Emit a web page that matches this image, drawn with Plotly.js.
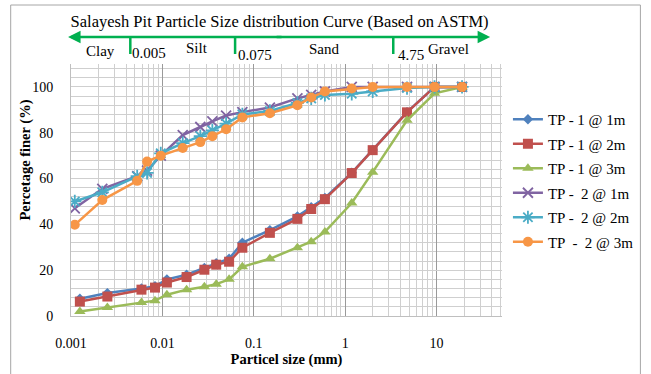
<!DOCTYPE html>
<html>
<head>
<meta charset="utf-8">
<script src="https://cdn.plot.ly/plotly-3.0.1.min.js"></script>
<style>
html,body{margin:0;padding:0;background:#fff;}
#chart{width:651px;height:374px;}
</style>
</head>
<body>
<div id="chart"></div>
<script>
// ---- data ----
var sizeTP1 = [0.00125, 0.0025, 0.0059, 0.0083, 0.0112, 0.0184, 0.0288, 0.0388, 0.0537, 0.075, 0.15, 0.3, 0.425, 0.6, 1.18, 2.0, 4.75, 9.5, 19];
var sizeTP2 = [0.0011, 0.0022, 0.0053, 0.0068, 0.0096, 0.0167, 0.026, 0.0352, 0.0498, 0.075, 0.15, 0.3, 0.425, 0.6, 1.18, 2.0, 4.75, 9.5, 19];

var tp1_1m = [7.5, 10, 12, 13, 16, 18, 21, 23, 25, 32, 37.5, 43.5, 47.5, 51.5, 62.5, 72.5, 89, 100, 100];
var tp1_2m = [6.3, 8.5, 11.5, 12.4, 14.6, 17, 20.2, 22.4, 23.7, 29.8, 36.3, 42.4, 46.7, 51, 62.4, 72.4, 88.9, 100, 100];
var tp1_3m = [2, 3.7, 5.9, 6.7, 9.3, 11.5, 12.8, 13.9, 16, 21.5, 25, 29.8, 32.4, 36.7, 49.3, 62.8, 85.4, 97.2, 100];
var tp2_1m = [47, 55.5, 61, 63.5, 70, 79, 82.5, 85, 87.5, 89, 91, 95, 96.5, 98, 100, 100, 100, 100, 100];
var tp2_2m = [50, 54, 61, 62.5, 71, 75.5, 78.5, 81, 84, 88, 89.5, 93, 95, 96.5, 97, 98, 99.5, 100, 100];
var tp2_3m = [39.8, 50.6, 59, 67.4, 70, 73.3, 75.9, 78.5, 81.5, 86.7, 88.5, 92, 95.4, 98, 99.3, 100, 100, 100, 100];

var seriesNames = ['TP - 1 @ 1m', 'TP - 1 @ 2m', 'TP - 1 @ 3m', 'TP -  2 @ 1m', 'TP -  2 @ 2m', 'TP  -  2 @ 3m'];
var xTickVals = [0.001, 0.01, 0.1, 1, 10];
var xTickText = ['0.001', '0.01', '0.1', '1', '10'];
var yTickVals = [0, 20, 40, 60, 80, 100];

var boundaryLabels = ['Clay', '0.005', 'Silt', '0.075', 'Sand', '4.75', 'Gravel'];

// ---- styles ----
var colors = ['#4F81BD', '#C0504D', '#9BBB59', '#8064A2', '#4BACC6', '#F79646'];
var symbols = ['diamond', 'square', 'triangle-up', 'x-thin-open', 'asterisk-open', 'circle'];
var sizes = [8, 10, 10, 10, 11, 10];
var xs = [sizeTP1, sizeTP1, sizeTP1, sizeTP2, sizeTP2, sizeTP2];
var ys = [tp1_1m, tp1_2m, tp1_3m, tp2_1m, tp2_2m, tp2_3m];

var traces = [];
for (var i = 0; i < 6; i++) {
  var open = symbols[i].indexOf('open') >= 0;
  traces.push({
    x: xs[i], y: ys[i], name: seriesNames[i], type: 'scatter', mode: 'lines+markers',
    legendgroup: 'g' + i,
    line: {color: colors[i], width: 2.5},
    marker: {symbol: symbols[i], size: sizes[i], color: colors[i],
             line: {color: colors[i], width: open ? 1.8 : 0}}
  });
}

var serif = "'Liberation Serif', 'Times New Roman', serif";
var L = 71, R = 507, T = 64, B = 316;
function px(x) { return (x - L) / (R - L); }
function py(y) { return (B - y) / (B - T); }

var green = '#00B050';
var annX = [101, 150, 198, 257, 327, 415, 453];
var annY = [51, 53, 48, 55, 49, 55, 49];
var annotations = [];
for (var k = 0; k < boundaryLabels.length; k++) {
  annotations.push({text: boundaryLabels[k], xref: 'paper', yref: 'paper', x: px(annX[k]), y: py(annY[k]),
    xanchor: 'center', yanchor: 'middle', showarrow: false, font: {family: serif, size: 15, color: '#000'}});
}
// double arrow
annotations.push({text: '', xref: 'paper', yref: 'paper', x: px(68), y: py(37), ax: 215, ay: 0,
  showarrow: true, arrowhead: 2, arrowsize: 1, arrowwidth: 2.5, arrowcolor: green});
annotations.push({text: '', xref: 'paper', yref: 'paper', x: px(495), y: py(37), ax: -215, ay: 0,
  showarrow: true, arrowhead: 2, arrowsize: 1, arrowwidth: 2.5, arrowcolor: green});
// y title
annotations.push({text: '<b>Percetage finer (%)</b>', xref: 'paper', yref: 'paper', x: px(24), y: py(160),
  xanchor: 'center', yanchor: 'middle', textangle: -90, showarrow: false,
  font: {family: serif, size: 14.5, color: '#000'}});

var shapes = [
  {type: 'rect', xref: 'paper', yref: 'paper', x0: px(10), x1: px(647), y0: py(390), y1: py(5),
   line: {color: '#A6A6A6', width: 1}, fillcolor: 'rgba(0,0,0,0)', layer: 'below'}
];
[131, 237, 397].forEach(function (xx) {
  shapes.push({type: 'line', xref: 'paper', yref: 'paper', x0: px(xx), x1: px(xx), y0: py(37), y1: py(54),
    line: {color: green, width: 2.5}});
});

var layout = {
  width: 651, height: 374,
  margin: {l: L, r: 651 - R, t: T, b: 374 - B},
  paper_bgcolor: '#fff', plot_bgcolor: '#fff',
  font: {family: serif, size: 14, color: '#000'},
  title: {text: 'Salayesh Pit Particle Size distribution Curve (Based on ASTM)',
          x: px(282), xanchor: 'center', xref: 'paper', y: 1 - 21 / 374, yanchor: 'middle',
          font: {family: serif, size: 16.5, color: '#000'}},
  xaxis: {type: 'log', range: [-3, Math.log10(52)], tickmode: 'array', tickvals: xTickVals, ticktext: xTickText,
          showgrid: true, gridcolor: '#9A9A9A', gridwidth: 1,
          minor: {dtick: 'D1', showgrid: true, gridcolor: '#CFCFCF', gridwidth: 1, ticks: ''},
          showline: true, linecolor: '#BFBFBF', zeroline: false, ticks: '', ticklabelstandoff: 14,
          tickfont: {family: serif, size: 14, color: '#000'},
          title: {text: '<b>Particel size (mm)</b>', standoff: 3, font: {family: serif, size: 14.5, color: '#000'}}},
  yaxis: {range: [0, 110], tickmode: 'array', tickvals: yTickVals,
          showgrid: true, gridcolor: '#CFCFCF', gridwidth: 1,
          minor: {dtick: 4, tick0: 0, showgrid: true, gridcolor: '#CFCFCF', gridwidth: 1, ticks: ''},
          showline: true, linecolor: '#BFBFBF', zeroline: false, ticks: '', ticklabelstandoff: 14,
          tickfont: {family: serif, size: 14, color: '#000'}},
  legend: {x: px(513), y: py(103), xanchor: 'left', yanchor: 'top', xref: 'paper', yref: 'paper',
           font: {family: serif, size: 15, color: '#000'}, tracegroupgap: 2, itemwidth: 30,
           bgcolor: 'rgba(0,0,0,0)', borderwidth: 0},
  showlegend: true,
  annotations: annotations,
  shapes: shapes
};

Plotly.newPlot('chart', traces, layout, {displayModeBar: false, staticPlot: true});
</script>
</body>
</html>
